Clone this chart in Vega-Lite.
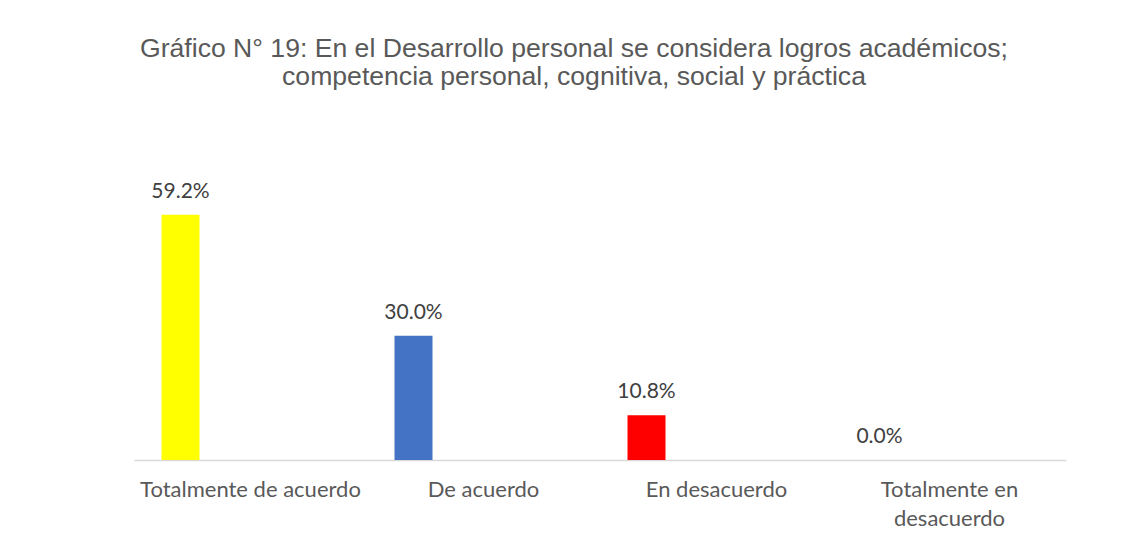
{
  "$schema": "https://vega.github.io/schema/vega-lite/v6.json",
  "autosize": "none",
  "width": 932,
  "height": 290,
  "padding": {"left": 134, "top": 170, "right": 60, "bottom": 78},
  "background": "white",
  "title": {
    "text": ["Gráfico N° 19: En el Desarrollo personal se considera logros académicos;", "competencia personal, cognitiva, social y práctica"],
    "font": "Liberation Sans",
    "fontSize": 26.6,
    "fontWeight": "normal",
    "color": "#595959",
    "lineHeight": 28,
    "anchor": "middle",
    "dx": -26,
    "offset": 79
  },
  "data": {
    "values": [
      {"categoria": "Totalmente de acuerdo", "porcentaje": 59.2, "etiqueta": "59.2%"},
      {"categoria": "De acuerdo", "porcentaje": 30.0, "etiqueta": "30.0%"},
      {"categoria": "En desacuerdo", "porcentaje": 10.8, "etiqueta": "10.8%"},
      {"categoria": "Totalmente en desacuerdo", "porcentaje": 0.0, "etiqueta": "0.0%"}
    ]
  },
  "encoding": {
    "x": {
      "field": "categoria",
      "type": "nominal",
      "sort": null,
      "scale": {"paddingInner": 0, "paddingOuter": 0},
      "axis": {
        "title": null,
        "labelAngle": 0,
        "ticks": false,
        "domainColor": "#d9d9d9",
        "domainWidth": 1.5,
        "labelFont": "Lato",
        "labelFontSize": 22,
        "labelColor": "#595959",
        "labelPadding": 19,
        "labelLimit": 0,
        "labelLineHeight": 29,
        "labelExpr": "datum.label == 'Totalmente en desacuerdo' ? ['Totalmente en', 'desacuerdo'] : datum.label"
      }
    },
    "y": {
      "field": "porcentaje",
      "type": "quantitative",
      "scale": {"domain": [0, 70]},
      "axis": null
    }
  },
  "layer": [
    {
      "mark": {"type": "bar", "size": 38, "xOffset": -70},
      "encoding": {
        "color": {
          "field": "categoria",
          "type": "nominal",
          "sort": null,
          "scale": {"range": ["#FFFF00", "#4472C4", "#FF0000", "#A5A5A5"]},
          "legend": null
        }
      }
    },
    {
      "mark": {"type": "text", "xOffset": -70, "dy": -17, "baseline": "alphabetic", "font": "Lato", "fontSize": 21, "color": "#404040"},
      "encoding": {"text": {"field": "etiqueta"}}
    }
  ],
  "config": {"view": {"stroke": null}}
}
